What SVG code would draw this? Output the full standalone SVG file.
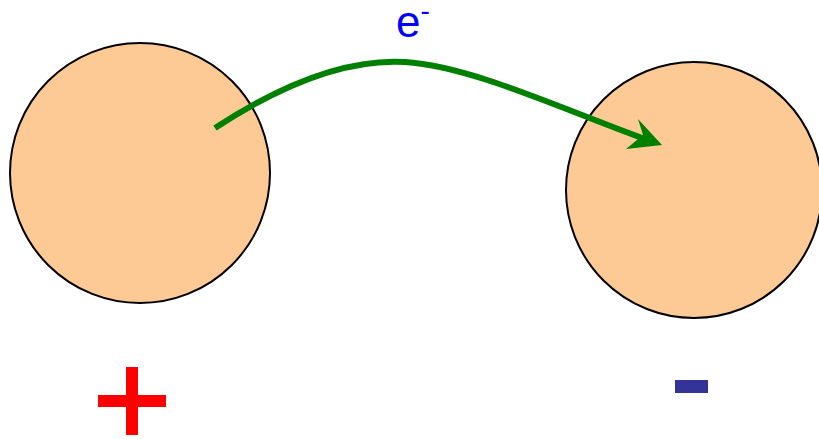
<svg xmlns="http://www.w3.org/2000/svg" width="819" height="439" viewBox="0 0 819 439">
<style>
.ball{fill:#fdca96;stroke:#000;stroke-width:2}
.lbl{font-family:"Liberation Sans",Arial,sans-serif}
</style>
<rect width="819" height="439" fill="#fff"/>
<g id="left-particle">
<circle class="ball" cx="140" cy="173" r="130"/>
<rect x="126" y="367" width="12" height="68" fill="#ff0000"/>
<rect x="98" y="395" width="68" height="12" fill="#ff0000"/>
</g>
<g id="right-particle">
<circle class="ball" cx="694" cy="190" r="128"/>
<rect x="675" y="380" width="33" height="13" fill="#333399"/>
</g>
<g id="connectors">
<path d="M215,128 C270,92 340,58 405,62 C470,66 560,108 645,139" fill="none" stroke="#008000" stroke-width="6"/>
<polygon points="662,145 626,149 643,135 638,119" fill="#008000"/>
<text class="lbl" x="396" y="37" font-size="44" fill="#0000ff">e<tspan font-size="28" dy="-17">-</tspan></text>
</g>
</svg>
